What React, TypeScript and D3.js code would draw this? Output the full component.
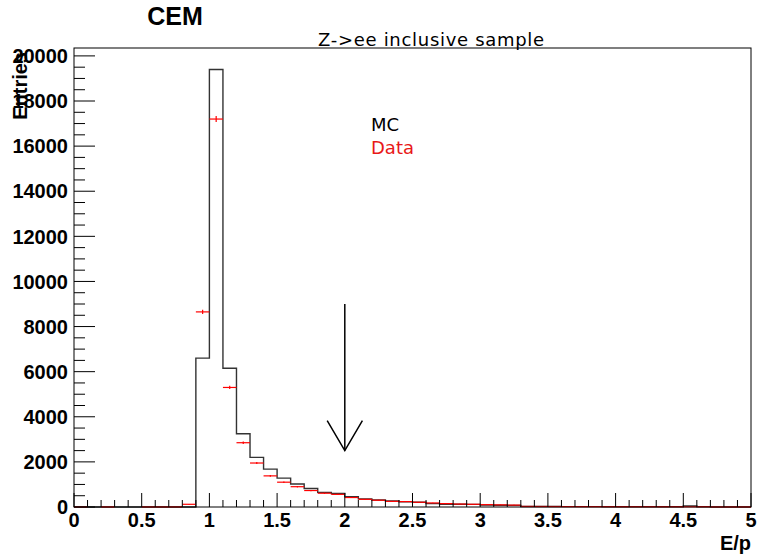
import React from "react";
import * as d3 from "d3";

const binEdgesStart = d3.range(0, 50).map((i) => +(i * 0.1).toFixed(1));
const mcValues = [
  0, 0, 0, 0, 0, 0, 0, 0, 0, 6600,
  19400, 6150, 3250, 2200, 1680, 1280, 1020, 820, 650, 600,
  460, 360, 310, 270, 235, 210, 150, 120, 120, 115,
  85, 75, 70, 25, 22, 20, 18, 16, 15, 14,
  13, 12, 11, 10, 10, 50, 10, 0, 0, 0,
];
const dataValues = [
  3, 0, 3, 0, 0, 3, 3, 4, 120, 8650,
  17200, 5300, 2850, 1950, 1380, 1100, 900, 730, 610, 560,
  420, 340, 300, 250, 240, 210, 180, 150, 130, 120,
  105, 95, 85, 25, 22, 20, 18, 16, 15, 14,
  13, 12, 12, 11, 11, 10, 12, 3, 3, 3,
];
const xTickLabels = ["0", "0.5", "1", "1.5", "2", "2.5", "3", "3.5", "4", "4.5", "5"];
const yTickLabels = ["0", "2000", "4000", "6000", "8000", "10000", "12000", "14000", "16000", "18000", "20000"];
const arrowX = [2.0];
const arrowY = [9000, 2500];

const BIN = 0.1;

export default function App() {
  const W = 757, H = 559;
  const L = 74, R = 751, T = 48, B = 507;
  const x = d3.scaleLinear().domain([0, 5]).range([L, R]);
  const y = d3.scaleLinear().domain([0, 20350]).range([B, T]);

  const stepPts: [number, number][] = [];
  binEdgesStart.forEach((e, i) => {
    stepPts.push([e, mcValues[i]]);
  });
  stepPts.push([5, mcValues[mcValues.length - 1]]);
  const stepLine = d3
    .line<[number, number]>()
    .x((d) => x(d[0]))
    .y((d) => y(d[1]))
    .curve(d3.curveStepAfter);

  const minorX = d3.range(0, 51).map((i) => i * 0.1);
  const minorY = d3.range(0, 41).map((i) => i * 500).filter((v) => y(v) >= T);

  const font = "'Liberation Sans', Arial, Helvetica, sans-serif";
  const dv = "'DejaVu Sans', Verdana, sans-serif";

  return (
    <svg width={W} height={H} style={{ position: "absolute", left: 0, top: 0, background: "#fff" }}>
      <rect x={0} y={0} width={W} height={H} fill="#fff" />
      {/* MC histogram */}
      <path d={stepLine(stepPts) || ""} fill="none" stroke="#333" strokeWidth={1.4} />
      {/* Data points */}
      {binEdgesStart.map((e, i) => {
        const v = dataValues[i];
        if (v <= 0) return null;
        const err = Math.sqrt(v);
        const cx = x(e + BIN / 2);
        return (
          <g key={i} stroke="#ff0000" strokeWidth={1.2}>
            <line x1={x(e)} x2={x(e + BIN)} y1={y(v)} y2={y(v)} />
            <line x1={cx} x2={cx} y1={y(v - err)} y2={y(v + err)} />
          </g>
        );
      })}
      {/* Frame */}
      <rect x={L} y={T} width={R - L} height={B - T} fill="none" stroke="#000" strokeWidth={1} />
      {/* X ticks */}
      {minorX.map((v, i) => {
        const major = i % 5 === 0;
        return (
          <line key={"xt" + i} x1={x(v)} x2={x(v)} y1={B} y2={B - (major ? 14 : 7)} stroke="#000" strokeWidth={1} />
        );
      })}
      {xTickLabels.map((t, i) => (
        <text key={"xl" + i} x={x(i * 0.5)} y={527} textAnchor="middle" fontFamily={font} fontWeight="bold" fontSize={20}>
          {t}
        </text>
      ))}
      {/* Y ticks */}
      {minorY.map((v, i) => {
        const major = v % 2000 === 0;
        return (
          <line key={"yt" + i} x1={L} x2={L + (major ? 21 : 11)} y1={y(v)} y2={y(v)} stroke="#000" strokeWidth={1} />
        );
      })}
      {yTickLabels.map((t, i) => (
        <text key={"yl" + i} x={68} y={y(i * 2000)} dy="0.36em" textAnchor="end" fontFamily={font} fontWeight="bold" fontSize={20}>
          {t}
        </text>
      ))}
      {/* Axis titles */}
      <text x={751} y={550} textAnchor="end" fontFamily={font} fontWeight="bold" fontSize={20}>
        E/p
      </text>
      <text transform="translate(27,52) rotate(-90)" textAnchor="end" fontFamily={font} fontWeight="bold" fontSize={20}>
        Entries
      </text>
      {/* Titles */}
      <text x={175} y={25} textAnchor="middle" fontFamily={font} fontWeight="bold" fontSize={25}>
        CEM
      </text>
      <text x={318} y={45.5} fontFamily={dv} fontSize={18} letterSpacing={0.7}>
        Z-&gt;ee inclusive sample
      </text>
      {/* Legend texts */}
      <text x={371} y={131} fontFamily={dv} fontSize={18} fill="#000">
        MC
      </text>
      <text x={371} y={154} fontFamily={dv} fontSize={18} fill="#e81818">
        Data
      </text>
      {/* Arrow */}
      <g stroke="#000" strokeWidth={1.5} fill="none">
        <line x1={x(arrowX[0])} x2={x(arrowX[0])} y1={y(arrowY[0])} y2={y(arrowY[1])} />
        <polyline
          points={`${x(arrowX[0] - 0.13)},${y(arrowY[1] + 1330)} ${x(arrowX[0])},${y(arrowY[1])} ${x(arrowX[0] + 0.13)},${y(arrowY[1] + 1330)}`}
        />
      </g>
    </svg>
  );
}
